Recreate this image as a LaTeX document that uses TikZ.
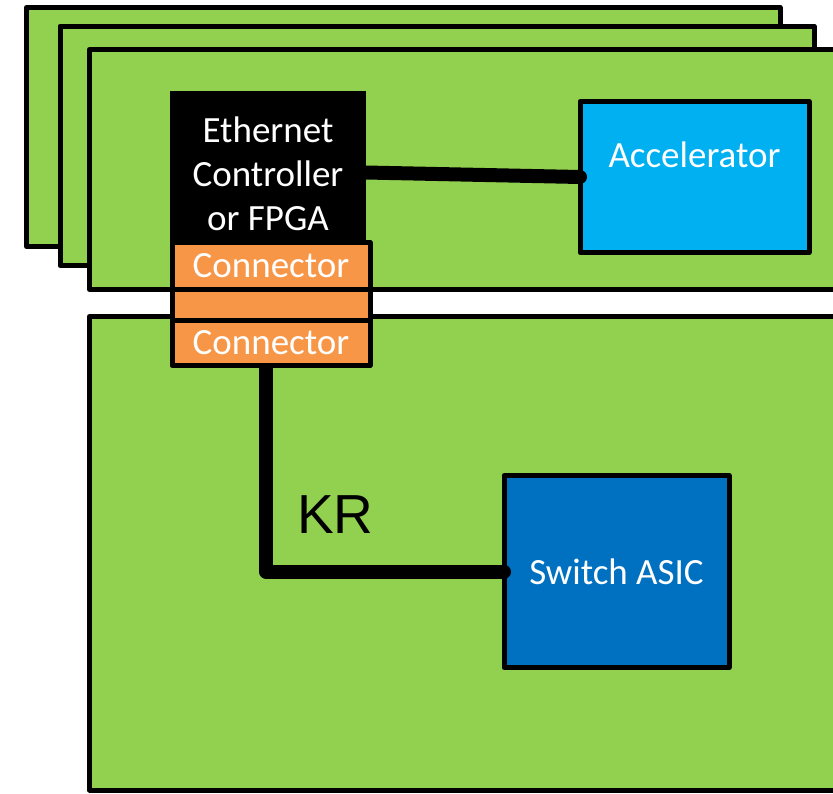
\documentclass[tikz,border=0pt]{standalone}
\usepackage{fontspec}
\setmainfont{Carlito}
\newfontfamily\krfont{Liberation Sans}
\usetikzlibrary{calc,
	positioning}
\definecolor{boardgreen}{HTML}{92D050}
\definecolor{accblue}{HTML}{00B0F0}
\definecolor{asicblue}{HTML}{0070C0}
\definecolor{connorange}{HTML}{F79646}
\pgfdeclarelayer{front}
\pgfsetlayers{main,front}

\begin{document}
\begin{tikzpicture}[x=1pt,y=-1pt,
	board/.style={draw=black,fill=boardgreen,line width=5pt,line join=round},
	chip/.style={draw=black,line width=5pt,line join=round,inner sep=0pt,outer sep=0pt,
		text=white,font=\fontsize{37}{44}\selectfont},
	chiptext/.style={inner sep=0pt,text=white,font=\fontsize{37}{44}\selectfont},
	conn/.style={chip,fill=connorange,minimum width=198pt},
	wire/.style={line width=14pt,line cap=round,line join=round}]
	\useasboundingbox (0,0) rectangle (833,793);
	\clip (0,0) rectangle (833,793);
	% stack of accelerator cards, back to front
	\foreach \xa/\ya/\xb/\yb in {26.5/7.5/780/246.5, 60/26/814/265.5, 89.5/49.5/860/289.5} {
		\draw[board] (\xa,\ya) rectangle (\xb,\yb);
	}
	% switch board
	\draw[board] (89.5,316.5) rectangle (860,790);

	\node[chip,fill=accblue,minimum width=229pt,minimum height=151pt] (acc) at (694.5,177) {};
	\node[chiptext,anchor=base] (acctext) at ($(acc.north)+(0,65.5)$) {Accelerator};
	\node[chip,fill=asicblue,minimum width=225pt,minimum height=192pt] (asic) at (616.5,571.5) {Switch ASIC};

	% controller and mated connector pair sit over the wire ends
	\begin{pgfonlayer}{front}
		\node[fill=black,inner sep=0pt,outer sep=0pt,minimum width=196pt,minimum height=151pt] (ctrl) at (268,166.5) {};
		\node[chiptext,align=center] (ctrltext) at (268,174) {Ethernet\\Controller\\or FPGA};
		\node[conn,minimum height=46.5pt] (conup) at (271,265.75) {Connector};
		\node[conn,minimum height=31pt,below=0pt of conup] (conmid) {};
		\node[conn,minimum height=45.5pt,below=0pt of conmid] (conlow) {Connector};
	\end{pgfonlayer}

	\draw[wire] ($(ctrl.east)+(0,6)$) -- (acc.west);
	\coordinate (bend) at (266,571.5);
	\draw[wire] (conlow.center -| bend) -- (bend) -- (asic.west);
	\node[font=\krfont\fontsize{55}{60}\selectfont,anchor=base] (kr) at (335.5,533) {KR};
\end{tikzpicture}
\end{document}
